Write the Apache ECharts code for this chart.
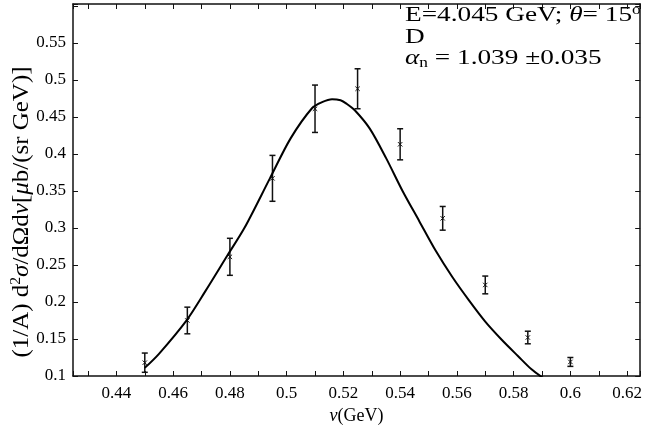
<!DOCTYPE html>
<html>
<head>
<meta charset="utf-8">
<script src="https://cdn.jsdelivr.net/npm/echarts@6/dist/echarts.min.js"></script>
<style>
  html, body { margin: 0; padding: 0; background: #fff; }
  #chart { width: 645px; height: 430px; }
</style>
</head>
<body>
<div id="chart"></div>
<script>
// measured points with error bars
const nu = [0.45, 0.465, 0.48, 0.495, 0.51, 0.525, 0.54, 0.555, 0.57, 0.585, 0.6];
const xsec = [0.118, 0.175, 0.261, 0.367, 0.461, 0.488, 0.413, 0.313, 0.223, 0.152, 0.119];
const xsecErr = [0.013, 0.018, 0.025, 0.031, 0.032, 0.027, 0.021, 0.016, 0.012, 0.0085, 0.006];

// calculated curve
const fitNu = [0.45, 0.455, 0.4646, 0.4712, 0.4791, 0.4852, 0.4941, 0.5014, 0.509, 0.5125,
  0.516, 0.519, 0.5212, 0.5241, 0.5293, 0.5351, 0.5409, 0.5467, 0.5525, 0.5584,
  0.5642, 0.570, 0.5758, 0.5816, 0.5863, 0.5905];
const fitVal = [0.111, 0.130, 0.1745, 0.2136, 0.2627, 0.3005, 0.367, 0.421, 0.462, 0.470,
  0.474, 0.4725, 0.4676, 0.4587, 0.4342, 0.394, 0.3496, 0.3095, 0.2694, 0.2337,
  0.2025, 0.1735, 0.149, 0.1267, 0.109, 0.097];

const xRange = [0.4247, 0.6246];
const yRange = [0.1, 0.6025];

const serif = '"Liberation Serif", "DejaVu Serif", serif';
const ink = '#111';

const chart = echarts.init(document.getElementById('chart'));

const tickRich = { t: { fontFamily: serif, fontSize: 17, color: '#000' } };

const fmtX = (v) => {
  const k = v * 50;
  return Math.abs(k - Math.round(k)) < 1e-6 ? '{t|' + (+v.toFixed(2)) + '}' : '';
};
const fmtY = (v) => {
  const k = v * 20;
  if (v > 0.58 || Math.abs(k - Math.round(k)) > 1e-6) return '';
  return '{t|' + (+v.toFixed(2)) + '}';
};

const frameX = (pos, labels) => ({
  type: 'value',
  position: pos,
  min: xRange[0],
  max: xRange[1],
  splitNumber: 20,
  axisLine: { show: true, onZero: false, lineStyle: { color: ink, width: 1.5 } },
  axisTick: { show: true, inside: true, length: 5, lineStyle: { color: ink } },
  splitLine: { show: false },
  axisLabel: {
    show: labels,
    formatter: fmtX,
    fontFamily: serif,
    fontSize: 17,
    color: '#000',
    margin: 9,
    rich: tickRich
  }
});

const frameY = (pos, labels) => ({
  type: 'value',
  position: pos,
  min: yRange[0],
  max: yRange[1],
  interval: 0.05,
  axisLine: { show: true, onZero: false, lineStyle: { color: ink, width: 1.5 } },
  axisTick: { show: true, inside: true, length: 5, lineStyle: { color: ink } },
  splitLine: { show: false },
  axisLabel: {
    show: labels,
    formatter: fmtY,
    fontFamily: serif,
    fontSize: 17,
    color: '#000',
    margin: 7,
    rich: tickRich
  }
});

const xAxisBottom = frameX('bottom', true);
xAxisBottom.name = '{i|ν}{n|(GeV)}';
xAxisBottom.nameLocation = 'middle';
xAxisBottom.nameGap = 31;
xAxisBottom.nameTextStyle = {
  fontFamily: serif,
  fontSize: 18,
  color: '#000',
  rich: {
    i: { fontFamily: serif, fontStyle: 'italic', fontSize: 18, color: '#000' },
    n: { fontFamily: serif, fontSize: 18, color: '#000' }
  }
};

const richTitle = {
  n: { fontFamily: serif, fontSize: 22, color: '#000', lineHeight: 24 },
  i: { fontFamily: serif, fontStyle: 'italic', fontSize: 22, color: '#000', lineHeight: 24 },
  sup: { fontFamily: serif, fontSize: 14, color: '#000', verticalAlign: 'top', lineHeight: 24 },
  sub: { fontFamily: serif, fontSize: 14, color: '#000', verticalAlign: 'bottom', lineHeight: 24 }
};

const titleLine = (y, text) => ({
  type: 'text',
  x: 405,
  y: y,
  scaleX: 1.24,
  style: { text: text, align: 'left', verticalAlign: 'middle', rich: richTitle }
});

const option = {
  animation: false,
  backgroundColor: '#fff',
  textStyle: { fontFamily: serif },
  grid: { left: 73, right: 3, top: 4, bottom: 49, containLabel: false },
  xAxis: [xAxisBottom, frameX('top', false)],
  yAxis: [frameY('left', true), frameY('right', false)],
  graphic: [
    {
      type: 'text',
      x: 22,
      y: 212,
      rotation: Math.PI / 2,
      scaleX: 1.04,
      style: {
        text: '{n|(1/A) d}{sup|2}{i|σ}{n|/dΩd}{i|ν}{n|[}{i|μ}{n|b/(sr GeV)]}',
        align: 'center',
        verticalAlign: 'middle',
        rich: {
          n: { fontFamily: serif, fontSize: 24, color: '#000', lineHeight: 26 },
          sup: { fontFamily: serif, fontSize: 15, color: '#000', verticalAlign: 'top', lineHeight: 26 },
          i: { fontFamily: serif, fontStyle: 'italic', fontSize: 24, color: '#000', lineHeight: 26 }
        }
      }
    },
    titleLine(15, '{n|E=4.045 GeV; }{i|θ}{n|= 15}{sup|o}'),
    titleLine(37, '{n|D}'),
    titleLine(58, '{i|α}{sub|n}{n| = 1.039 ±0.035}')
  ],
  series: [
    {
      type: 'line',
      data: fitNu.map((x, i) => [x, fitVal[i]]),
      smooth: 0.3,
      showSymbol: false,
      clip: true,
      lineStyle: { color: '#000', width: 2 }
    },
    {
      type: 'custom',
      data: nu.map((x, i) => [x, xsec[i], xsecErr[i]]),
      encode: { x: 0, y: 1 },
      clip: true,
      renderItem: (params, api) => {
        const x = api.value(0);
        const y = api.value(1);
        const e = api.value(2);
        const top = api.coord([x, y + e]);
        const bot = api.coord([x, y - e]);
        const c = api.coord([x, y]);
        const cap = 3;
        const m = 2.2;
        const st = { stroke: ink, lineWidth: 1.5 };
        const thin = { stroke: ink, lineWidth: 1 };
        return {
          type: 'group',
          children: [
            { type: 'line', shape: { x1: top[0], y1: top[1], x2: bot[0], y2: bot[1] }, style: st },
            { type: 'line', shape: { x1: top[0] - cap, y1: top[1], x2: top[0] + cap, y2: top[1] }, style: st },
            { type: 'line', shape: { x1: bot[0] - cap, y1: bot[1], x2: bot[0] + cap, y2: bot[1] }, style: st },
            { type: 'line', shape: { x1: c[0] - m, y1: c[1] - m, x2: c[0] + m, y2: c[1] + m }, style: thin },
            { type: 'line', shape: { x1: c[0] - m, y1: c[1] + m, x2: c[0] + m, y2: c[1] - m }, style: thin }
          ]
        };
      }
    }
  ]
};

chart.setOption(option);
</script>
</body>
</html>
